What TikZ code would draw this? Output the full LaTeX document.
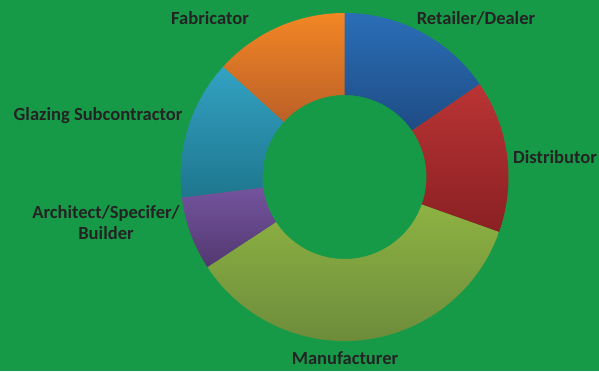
\documentclass[tikz,border=0pt]{standalone}
\usepackage{fontspec}
\setmainfont{Carlito}

\definecolor{bgGreen}{RGB}{23,154,72}
\definecolor{labelInk}{RGB}{35,35,35}
\definecolor{blueTop}{RGB}{42,110,182}
\definecolor{blueBot}{RGB}{30,76,133}
\definecolor{redTop}{RGB}{186,52,52}
\definecolor{redBot}{RGB}{138,32,35}
\definecolor{oliveTop}{RGB}{142,178,66}
\definecolor{oliveBot}{RGB}{104,134,58}
\definecolor{purpleTop}{RGB}{116,84,158}
\definecolor{purpleBot}{RGB}{82,56,112}
\definecolor{tealTop}{RGB}{51,162,194}
\definecolor{tealBot}{RGB}{30,118,142}
\definecolor{orangeTop}{RGB}{242,134,36}
\definecolor{orangeBot}{RGB}{188,96,40}

\tikzset{
  seglabel/.style={text=labelInk, font=\fontsize{13.9}{15.8}\selectfont\bfseries, align=center, inner sep=0pt},
}

% ring segment: start angle, end angle
\newcommand{\ringpart}[2]{(#1:164) arc[start angle=#1, end angle=#2, radius=164] -- (#2:82) arc[start angle=#2, end angle=#1, radius=82] -- cycle}

\begin{document}
\begin{tikzpicture}[x=0.75pt, y=0.75pt]

	\fill[bgGreen] (0,0) rectangle (599,-371);
	\useasboundingbox (0,0) rectangle (599,-371);

	\begin{scope}[shift={(344.5,-177)}]
		\shade[top color=blueTop, bottom color=blueBot] \ringpart{90}{34.5};     % retailer
		\shade[top color=redTop, bottom color=redBot] \ringpart{34.5}{-19.6};    % distributor
		\shade[top color=oliveTop, bottom color=oliveBot] \ringpart{-19.6}{-146.7}; % manufacturer
		\shade[top color=purpleTop, bottom color=purpleBot] \ringpart{-146.7}{-172.8}; % architect
		\shade[top color=tealTop, bottom color=tealBot] \ringpart{187.2}{137.7};  % glazing
		\shade[top color=orangeTop, bottom color=orangeBot] \ringpart{137.7}{90}; % fabricator
	\end{scope}

	\node[seglabel] (retailer) at (476,-18) {Retailer/Dealer};
	\node[seglabel] (distributor) at (555,-157) {Distributor};
	\node[seglabel] (manufacturer) at (345,-358) {Manufacturer};
	\node[seglabel] (architect) at (106,-222.5) {Architect/Specifer/\\Builder};
	\node[seglabel] (glazing) at (98,-116) {Glazing Subcontractor};
	\node[seglabel] (fabricator) at (210,-18) {Fabricator};

\end{tikzpicture}
\end{document}
